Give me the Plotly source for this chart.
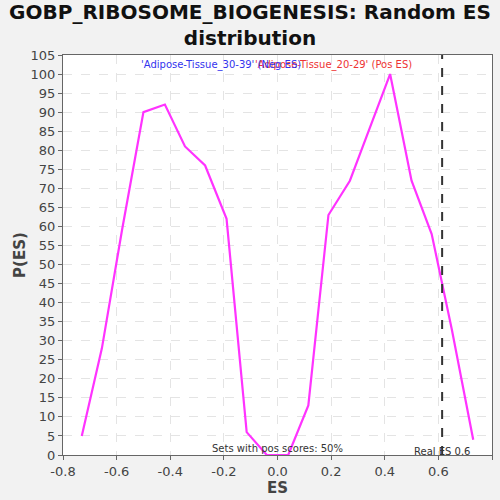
import plotly.graph_objects as go

es_x = [-0.73, -0.655, -0.58, -0.5, -0.42, -0.345, -0.27, -0.19, -0.115, -0.04,
        0.04, 0.115, 0.19, 0.27, 0.345, 0.42, 0.5, 0.575, 0.65, 0.73]
p_es = [5, 28, 59, 90, 92, 81, 76, 62, 6, 0,
        0, 13, 63, 72, 86, 100, 72, 58, 33, 4]
real_es = 0.614
x_ticks = [-0.8, -0.6, -0.4, -0.2, 0.0, 0.2, 0.4, 0.6, 0.8]
x_tick_text = ["-0.8", "-0.6", "-0.4", "-0.2", "0.0", "0.2", "0.4", "0.6", "0.8"]
y_ticks = list(range(0, 106, 5))

fig = go.Figure()
fig.add_trace(go.Scatter(x=es_x, y=p_es, mode="lines",
                         line=dict(color="#ff33ff", width=2.2), showlegend=False))
fig.add_shape(type="line", x0=real_es, x1=real_es, y0=0, y1=105, xref="x", yref="y",
              line=dict(color="#333333", width=2, dash="dash"))

fig.add_annotation(x=0.21, y=102.5, xref="x", yref="y", text="'Adipose-Tissue_20-29' (Pos ES)",
                   showarrow=False, xanchor="center", yanchor="middle",
                   font=dict(size=10, color="#ee3333", family="DejaVu Sans"))
fig.add_annotation(x=-0.21, y=102.5, xref="x", yref="y", text="'Adipose-Tissue_30-39' (Neg ES)",
                   showarrow=False, xanchor="center", yanchor="middle",
                   font=dict(size=10, color="#3333ee", family="DejaVu Sans"))
fig.add_annotation(x=0.0, y=0, xref="x", yref="y", text="Sets with pos scores: 50%",
                   showarrow=False, xanchor="center", yanchor="bottom", yshift=-1,
                   font=dict(size=10, color="#333333", family="DejaVu Sans"))
fig.add_annotation(x=real_es, y=0, xref="x", yref="y", text="Real ES 0.6",
                   showarrow=False, xanchor="center", yanchor="bottom", yshift=-4,
                   font=dict(size=10, color="#333333", family="DejaVu Sans"))

fig.update_layout(
    width=500, height=500,
    margin=dict(l=63, r=8, t=55, b=45, autoexpand=False),
    paper_bgcolor="#f2f2f2", plot_bgcolor="#ffffff",
    title=dict(text="<b>GOBP_RIBOSOME_BIOGENESIS: Random ES<br>distribution</b>",
               x=0.5, xanchor="center", y=0.963, yanchor="top",
               font=dict(size=20, color="#111111", family="DejaVu Sans")),
    font=dict(family="DejaVu Sans", color="#444444"),
)
fig.update_xaxes(range=[-0.8, 0.8], tickvals=x_ticks, ticktext=x_tick_text, automargin=False,
                 showgrid=True, gridcolor="#e4e4e4", griddash="dash", gridwidth=1,
                 zeroline=False, showline=True, linecolor="#666666", mirror=True,
                 ticks="outside", ticklen=4, tickcolor="#666666",
                 tickfont=dict(size=13, color="#444444"),
                 title=dict(text="<b>ES</b>", font=dict(size=15, color="#444444"), standoff=4))
fig.update_yaxes(range=[0, 105], tickvals=y_ticks, automargin=False,
                 showgrid=True, gridcolor="#e4e4e4", griddash="dash", gridwidth=1,
                 zeroline=False, showline=True, linecolor="#666666", mirror=True,
                 ticks="outside", ticklen=4, tickcolor="#666666",
                 tickfont=dict(size=13, color="#444444"),
                 title=dict(text="<b>P(ES)</b>", font=dict(size=15, color="#444444"), standoff=1))
fig.write_html("out.html", config={"displayModeBar": False},
               post_script="document.body.style.margin='0';document.body.style.padding='0';")
